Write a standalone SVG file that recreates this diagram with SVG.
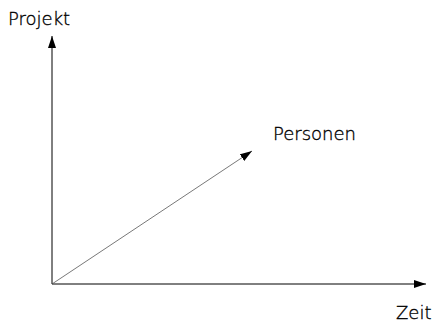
<svg xmlns="http://www.w3.org/2000/svg" width="441" height="325" viewBox="0 0 441 325">
<style>
text{font-family:"DejaVu Sans",sans-serif;font-size:18px;font-weight:200;fill:#000;stroke:#000;stroke-width:0.35}
.ax{stroke:#000;stroke-width:1;fill:none}
.dg{stroke:#555;stroke-width:0.8;fill:none}
</style>
<defs>
<marker id="ah" viewBox="0 0 12 8" refX="12" refY="4" markerWidth="12" markerHeight="8" markerUnits="userSpaceOnUse" orient="auto">
<path d="M0,0 L12,4 L0,8 z" fill="#000"/>
</marker>
</defs>
<rect width="441" height="325" fill="#fff"/>
<g id="connectors">
<line class="ax" x1="52" y1="284" x2="52" y2="36" marker-end="url(#ah)"/>
<line class="ax" x1="52" y1="284" x2="426" y2="284" marker-end="url(#ah)"/>
<line class="dg" x1="52" y1="284" x2="252" y2="151" marker-end="url(#ah)"/>
</g>
<g id="projekt"><text x="8" y="25">Projekt</text></g>
<g id="personen"><text x="273" y="140">Personen</text></g>
<g id="zeit"><text x="396" y="319">Zeit</text></g>
</svg>
